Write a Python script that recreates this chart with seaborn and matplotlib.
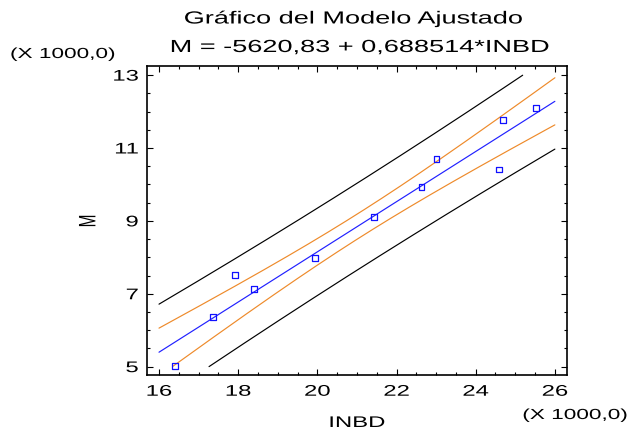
import numpy as np
import pandas as pd
import matplotlib
matplotlib.use("Agg")
import matplotlib.pyplot as plt
import seaborn as sns
from matplotlib.patheffects import AbstractPathEffect
from matplotlib.transforms import Affine2D
from matplotlib.ticker import MultipleLocator

# ---------------- data ----------------
INBD = [16400, 17355, 17920, 18390, 19930, 21430, 22630, 23010, 24585, 24680, 25520]
M = [5020, 6353, 7514, 7139, 7971, 9096, 9928, 10696, 10410, 11765, 12095]
intercept = -5620.83
slope = 0.688514
t_crit = 2.262  # t(0.975, n-2 = 9)

x_ticks = [16000, 18000, 20000, 22000, 24000, 26000]
x_tick_labels = ["16", "18", "20", "22", "24", "26"]
y_ticks = [5000, 7000, 9000, 11000, 13000]
y_tick_labels = ["5", "7", "9", "11", "13"]

title1 = "Gráfico del Modelo Ajustado"
title2 = "M = -5620,83 + 0,688514*INBD"
scale_note = "(X 1000,0)"
x_label = "INBD"
y_label = "M"


class Stretch(AbstractPathEffect):
    """Widen text glyphs (in the glyph frame) around an anchor."""

    def __init__(self, sx=1.55, anchor="center", sy=1.0):
        super().__init__()
        self.sx = sx
        self.sy = sy
        self.anchor = anchor

    def draw_path(self, renderer, gc, tpath, affine, rgbFace=None):
        ext = tpath.get_extents()
        if self.anchor == "left":
            cx = 0.0
        elif self.anchor == "right":
            cx = ext.x1
        else:
            cx = (ext.x0 + ext.x1) / 2.0
        cy = (ext.y0 + ext.y1) / 2.0
        tr = (Affine2D().translate(-cx, -cy).scale(self.sx, self.sy)
              .translate(cx, cy) + affine)
        renderer.draw_path(gc, tpath, tr, rgbFace)


sns.set_theme(style="white")
plt.rcParams["font.family"] = ["Liberation Sans", "DejaVu Sans"]

SX = 1.55

df = pd.DataFrame({"INBD": INBD, "M": M})
x = np.array(INBD, dtype=float)
y = np.array(M, dtype=float)
n = len(x)
resid = y - (intercept + slope * x)
s = np.sqrt(np.sum(resid ** 2) / (n - 2))
xm = x.mean()
sxx = np.sum((x - xm) ** 2)

grid = np.linspace(x_ticks[0], x_ticks[-1], 800)
fit = intercept + slope * grid
conf = t_crit * s * np.sqrt(1.0 / n + (grid - xm) ** 2 / sxx)
pred = t_crit * s * np.sqrt(1.0 + 1.0 / n + (grid - xm) ** 2 / sxx)

fig = plt.figure(figsize=(6.3, 4.3), dpi=100)
ax = fig.add_axes([0.2329, 0.1279, 0.6667, 0.7186])
ax.set_facecolor("white")

ymin, ymax = y_ticks[0], y_ticks[-1]
curves = [
    (pred, "#000000"), (-pred, "#000000"),
    (conf, "#EE8A2A"), (-conf, "#EE8A2A"),
    (0 * conf, "#2020FF"),
]
for off, col in curves:
    vals = fit + off
    m = (vals >= ymin) & (vals <= ymax)
    sns.lineplot(x=grid[m], y=vals[m], ax=ax, color=col, lw=0.85,
                 estimator=None, sort=False)

sns.scatterplot(data=df, x="INBD", y="M", ax=ax, marker="s", s=18,
                facecolor="none", edgecolor="#1010FF", linewidth=0.9, zorder=5)

ax.set_xlim(15690, 26300)
ax.set_ylim(4770, 13250)
ax.set_xticks(x_ticks)
ax.set_xticklabels(x_tick_labels)
ax.set_yticks(y_ticks)
ax.set_yticklabels(y_tick_labels)
ax.xaxis.set_minor_locator(MultipleLocator(500))
ax.yaxis.set_minor_locator(MultipleLocator(500))
ax.set_xlabel("")
ax.set_ylabel("")

ax.tick_params(which="both", direction="in", top=True, right=True,
               bottom=True, left=True, color="black", width=0.8)
ax.tick_params(which="major", length=4.5)
ax.tick_params(which="minor", length=2.2)
ax.tick_params(axis="x", which="major", labelsize=11.1, pad=7.0, labelcolor="black")
ax.tick_params(axis="y", which="major", labelsize=11.1, pad=6.0, labelcolor="black")
for sp in ax.spines.values():
    sp.set_visible(True)
    sp.set_color("black")
    sp.set_linewidth(1.2)

for lbl in ax.get_xticklabels():
    lbl.set_path_effects([Stretch(SX, "center")])
for lbl in ax.get_yticklabels():
    lbl.set_path_effects([Stretch(SX, "right")])

W, H = 630.0, 430.0
fig.text(353 / W, 1 - 23.5 / H, title1, ha="center", va="baseline",
         fontsize=12.6, color="black", path_effects=[Stretch(SX, "center")])
fig.text(359.5 / W, 1 - 52 / H, title2, ha="center", va="baseline",
         fontsize=12.6, color="black", path_effects=[Stretch(SX, "center")])
fig.text(10 / W, 1 - 54 / H, scale_note, ha="left", va="center",
         fontsize=10.5, color="black", path_effects=[Stretch(SX, "left")])
fig.text(628 / W, 1 - 415 / H, scale_note, ha="right", va="center",
         fontsize=10.5, color="black", path_effects=[Stretch(SX, "right")])
fig.text(357 / W, 1 - 427 / H, x_label, ha="center", va="baseline",
         fontsize=11.1, color="black", path_effects=[Stretch(SX, "center")])
fig.text(88.5 / W, 1 - 221 / H, y_label, ha="center", va="center", rotation=90,
         fontsize=11.1, color="black",
         path_effects=[Stretch(1.0, "center", sy=SX)])

fig.savefig("out.png", dpi=100)
